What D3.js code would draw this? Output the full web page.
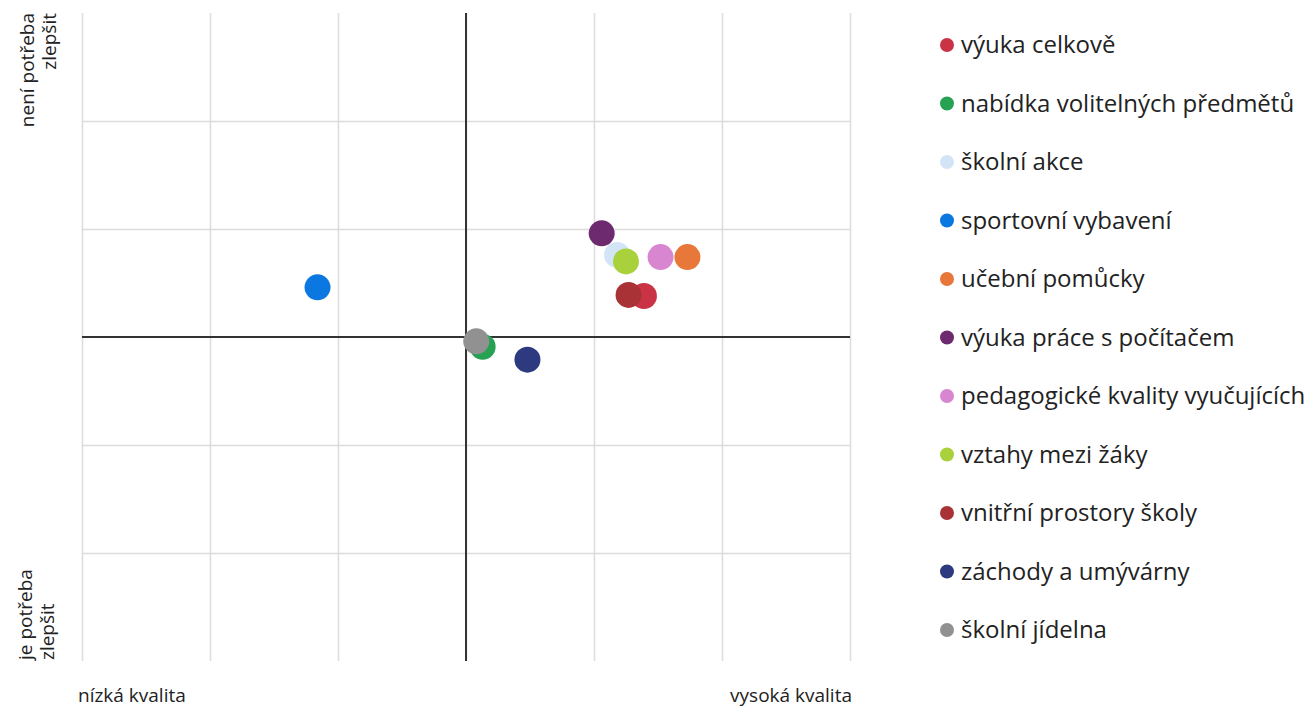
<!DOCTYPE html>
<html>
<head>
<meta charset="utf-8">
<script src="https://cdn.jsdelivr.net/npm/d3@7/dist/d3.min.js"></script>
<style>
  html, body { margin: 0; padding: 0; background: #ffffff; }
  svg { display: block; font-family: "Open Sans", "Noto Sans", sans-serif; }
</style>
</head>
<body>
<svg id="chart" width="1314" height="707"></svg>
<script>
// ---- data ----
const series = [
  "výuka celkově",
  "nabídka volitelných předmětů",
  "školní akce",
  "sportovní vybavení",
  "učební pomůcky",
  "výuka práce s počítačem",
  "pedagogické kvality vyučujících",
  "vztahy mezi žáky",
  "vnitřní prostory školy",
  "záchody a umývárny",
  "školní jídelna"
];
const xValues = [1.39, 0.13, 1.18, -1.16, 1.73, 1.06, 1.52, 1.25, 1.27, 0.48, 0.08];
const yValues = [0.38, -0.09, 0.76, 0.46, 0.74, 0.96, 0.74, 0.70, 0.39, -0.21, -0.04];
const colors = ["#c93345", "#27a152", "#d3e4f7", "#0a78e0", "#e8773a", "#6e2a6e",
                "#d886d0", "#a9d13b", "#a83236", "#2e3a7f", "#919191"];
const xTicks = [-3, -2, -1, 0, 1, 2, 3];
const yTicks = [-2, -1, 1, 2];
const topLabel = ["není potřeba", "zlepšit"];
const bottomLabel = ["je potřeba", "zlepšit"];
const xLowLabel = "nízká kvalita";
const xHighLabel = "vysoká kvalita";

// ---- layout ----
const svg = d3.select("#chart");
const plot = { left: 82, right: 850, top: 13, bottom: 661 };
const x = d3.scaleLinear().domain([-3, 3]).range([plot.left, plot.right]);
const y = d3.scaleLinear().domain([-3, 3]).range([plot.bottom, plot.top]);

// gridlines
const grid = svg.append("g");
grid.append("g")
  .attr("transform", `translate(0,${plot.bottom})`)
  .call(d3.axisBottom(x).tickValues(xTicks).tickSize(-(plot.bottom - plot.top)).tickFormat(""))
  .call(g => g.select(".domain").remove())
  .call(g => g.selectAll("line").attr("stroke", "#dcdcdc").attr("stroke-width", 1.5));
grid.append("g")
  .attr("transform", `translate(${plot.left},0)`)
  .call(d3.axisLeft(y).tickValues(yTicks).tickSize(-(plot.right - plot.left)).tickFormat(""))
  .call(g => g.select(".domain").remove())
  .call(g => g.selectAll("line").attr("stroke", "#dcdcdc").attr("stroke-width", 1.5));

// centre axes
svg.append("line")
  .attr("x1", x(-3)).attr("x2", x(3)).attr("y1", y(0)).attr("y2", y(0))
  .attr("stroke", "#333").attr("stroke-width", 2);
svg.append("line")
  .attr("x1", x(0)).attr("x2", x(0)).attr("y1", y(3)).attr("y2", y(-3))
  .attr("stroke", "#333").attr("stroke-width", 2);

// points
const pts = series.map((s, i) => ({ name: s, x: xValues[i], y: yValues[i], c: colors[i] }));
svg.append("g").selectAll("circle").data(pts).join("circle")
  .attr("cx", d => x(d.x)).attr("cy", d => y(d.y)).attr("r", 13)
  .attr("fill", d => d.c);

// axis labels
const lblColor = "#222";
const tl = svg.append("text").attr("transform", "translate(0,13) rotate(-90)")
  .attr("text-anchor", "end").attr("font-size", 19).attr("fill", lblColor);
tl.append("tspan").attr("x", 0).attr("y", 34).text(topLabel[0]);
tl.append("tspan").attr("x", 0).attr("y", 56).text(topLabel[1]);
const bl = svg.append("text").attr("transform", "translate(0,660) rotate(-90)")
  .attr("text-anchor", "start").attr("font-size", 19).attr("fill", lblColor);
bl.append("tspan").attr("x", 0).attr("y", 32).text(bottomLabel[0]);
bl.append("tspan").attr("x", 0).attr("y", 54).text(bottomLabel[1]);

svg.append("text").attr("x", 78).attr("y", 702).attr("font-size", 19)
  .attr("fill", lblColor).text(xLowLabel);
svg.append("text").attr("x", 852).attr("y", 702).attr("font-size", 19)
  .attr("text-anchor", "end").attr("fill", lblColor).text(xHighLabel);

// legend
const legend = svg.append("g");
const ly = d3.scalePoint().domain(series).range([45, 630]);
const items = legend.selectAll("g").data(pts).join("g")
  .attr("transform", d => `translate(947,${ly(d.name)})`);
items.append("circle").attr("r", 7).attr("fill", d => d.c);
items.append("text").attr("x", 14).attr("dy", "0.35em").attr("font-size", 24)
  .attr("fill", "#222").text(d => d.name);
</script>
</body>
</html>
